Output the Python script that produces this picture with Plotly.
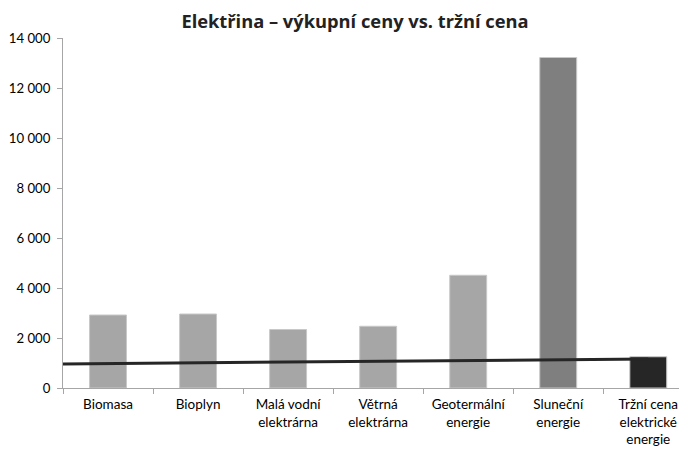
import plotly.graph_objects as go

categories = ["Biomasa", "Bioplyn", "Malá vodní<br>elektrárna", "Větrná<br>elektrárna",
              "Geotermální<br>energie", "Sluneční<br>energie", "Tržní cena<br>elektrické<br>energie"]
values = [2920, 2960, 2340, 2470, 4510, 13220, 1250]
bar_colors = ["#a6a6a6", "#a6a6a6", "#a6a6a6", "#a6a6a6", "#a6a6a6", "#7f7f7f", "#262626"]
trend_x = [-0.5, 6.0]
trend_y = [960, 1160]
y_ticks = [0, 2000, 4000, 6000, 8000, 10000, 12000, 14000]

xs = list(range(len(categories)))

fig = go.Figure()
fig.add_trace(go.Scatter(x=trend_x, y=trend_y, mode="lines",
                         line=dict(color="#262626", width=3), showlegend=False))
fig.add_trace(go.Bar(x=xs, y=values, width=0.41,
                     marker=dict(color=bar_colors, line=dict(color="#c8c8c8", width=1)),
                     showlegend=False))

fig.update_layout(
    width=679, height=442,
    margin=dict(l=55, r=0, t=30, b=62),
    paper_bgcolor="white", plot_bgcolor="white",
    separators=", ",
    font=dict(family="Lato, sans-serif", size=13, color="#000000"),
    title=dict(text="<b>Elektřina – výkupní ceny vs. tržní cena</b>",
               x=0.511, xanchor="center", y=0.97, yanchor="middle",
               font=dict(family="Open Sans, sans-serif", size=18.3, color="#222222")),
    bargap=0.5,
)
fig.update_xaxes(
    range=[-0.5, 6.43], tickvals=xs, ticktext=categories, ticks="", automargin=False,
    showgrid=False, zeroline=False, showline=True, linecolor="#a6a6a6", linewidth=1,
    tickfont=dict(family="Lato, sans-serif", size=13.5), ticklabelstandoff=4,
    minor=dict(tickvals=[-0.5, 0.5, 1.5, 2.5, 3.5, 4.5, 5.5, 6.5], ticks="outside",
               ticklen=5, tickcolor="#a6a6a6", showgrid=False),
)
fig.update_yaxes(
    range=[0, 14000], tickvals=y_ticks, tickformat=",d", ticks="outside", ticklen=5,
    tickcolor="#a6a6a6", showgrid=False, zeroline=False, showline=True, automargin=False,
    linecolor="#a6a6a6", linewidth=1, tickfont=dict(family="Lato, sans-serif", size=13.2),
    ticklabelstandoff=4,
)

fig.write_html("out.html")
